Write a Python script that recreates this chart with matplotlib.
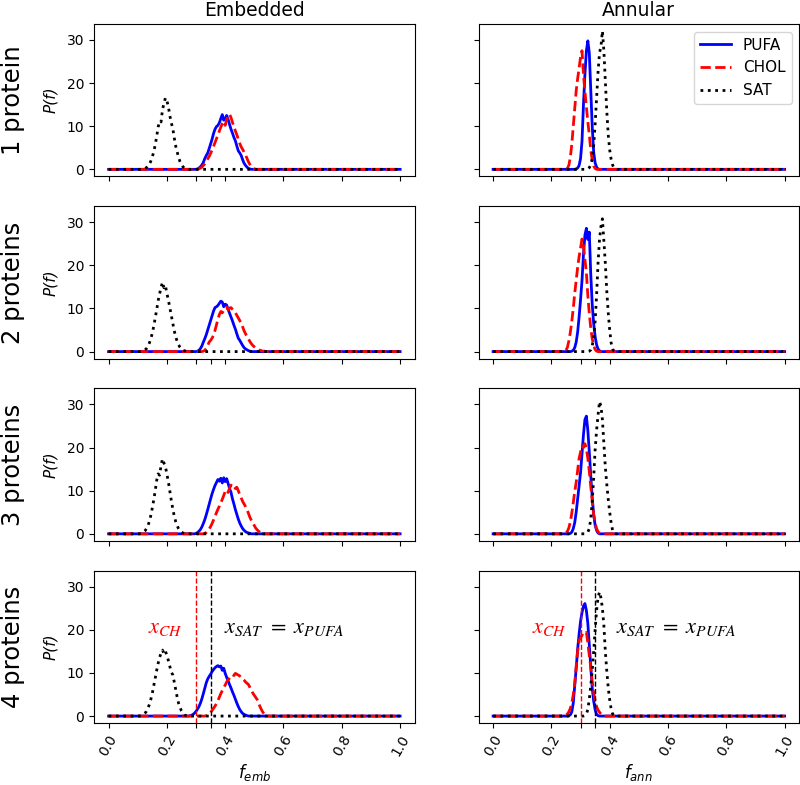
import numpy as np
import matplotlib
matplotlib.use('Agg')
import matplotlib.pyplot as plt

# histogram bins of the lipid fraction f
step = 0.005
f = np.linspace(0., 1., 201)

rows = ['1 protein', '2 proteins', '3 proteins', '4 proteins']
columns = ['Embedded', 'Annular']
x_ch = 0.30      # overall cholesterol fraction
x_sat = 0.35     # overall SAT (= PUFA) fraction

# each curve: (first non-empty bin, values); every other bin is zero
emb_pufa = [
    (0.305, [0.1, 0.3, 0.6, 1.0, 1.6, 2.5, 3.2, 3.8, 4.8, 5.9, 7.0, 8.3, 9.3, 9.9, 10.2, 10.8, 11.8, 12.7, 11.4,
             11.8, 12.5, 11.6, 10.4, 9.3, 8.4, 7.4, 6.6, 5.4, 4.3, 3.8, 3.2, 2.2, 1.4, 0.9, 0.5, 0.2, 0.1]),
    (0.305, [0.1, 0.3, 0.7, 1.3, 2.2, 3.0, 3.9, 5.0, 6.1, 7.2, 8.3, 9.4, 10.2, 10.4, 10.7, 11.2, 11.7, 11.5, 10.4,
             11.0, 10.8, 9.8, 8.9, 8.0, 7.1, 6.1, 5.2, 4.1, 3.1, 2.6, 2.0, 1.4, 0.9, 0.6, 0.4, 0.2, 0.1]),
    (0.300, [0.1, 0.3, 0.6, 1.0, 1.6, 2.4, 3.3, 4.4, 5.6, 6.9, 8.1, 9.3, 10.3, 11.2, 11.9, 12.6, 12.2, 12.9, 11.8,
             13.0, 12.1, 12.8, 11.7, 10.5, 9.6, 8.1, 6.9, 5.6, 4.5, 3.4, 2.5, 1.8, 1.2, 0.8, 0.5, 0.3, 0.2, 0.1]),
    (0.280, [0.1, 0.2, 0.4, 0.7, 1.1, 1.6, 2.2, 3.0, 4.0, 5.2, 6.5, 7.7, 8.6, 9.2, 9.7, 10.3, 10.8, 11.2, 11.5,
             11.7, 11.4, 11.6, 10.6, 11.1, 9.9, 9.0, 8.2, 7.3, 6.5, 5.6, 4.8, 3.9, 3.0, 2.2, 1.5, 1.0, 0.6, 0.4,
             0.2, 0.1]),
]
emb_chol = [
    (0.310, [0.1, 0.3, 0.5, 0.9, 1.3, 1.8, 2.4, 3.0, 3.7, 4.5, 5.3, 6.2, 7.1, 8.0, 8.9, 9.8, 10.6, 11.1, 10.2,
             11.5, 12.4, 12.8, 12.0, 10.9, 9.9, 8.9, 8.0, 7.0, 6.0, 5.2, 4.6, 4.0, 3.3, 2.5, 1.7, 1.1, 0.6, 0.3,
             0.1]),
    (0.325, [0.1, 0.3, 0.7, 1.4, 2.2, 2.6, 3.1, 3.8, 4.9, 6.2, 7.5, 8.6, 9.3, 9.0, 9.6, 9.9, 10.3, 9.7, 10.1,
             10.2, 9.8, 9.5, 9.0, 8.4, 7.8, 7.2, 6.6, 5.7, 4.8, 4.1, 3.5, 2.9, 2.3, 1.8, 1.4, 1.1, 0.8, 0.6, 0.4,
             0.3, 0.2, 0.1, 0.1]),
    (0.330, [0.1, 0.3, 0.6, 1.1, 1.7, 2.4, 3.2, 4.0, 4.9, 5.7, 6.4, 7.2, 8.0, 8.9, 9.8, 10.2, 9.6, 10.6, 11.3,
             10.9, 11.1, 10.5, 10.8, 10.0, 9.1, 8.3, 7.5, 6.9, 6.3, 5.6, 4.7, 3.8, 3.1, 2.5, 1.9, 1.3, 0.9, 0.6,
             0.3, 0.2, 0.1]),
    (0.335, [0.1, 0.3, 0.6, 0.9, 1.3, 1.8, 2.3, 2.9, 3.6, 4.4, 5.2, 5.9, 6.6, 7.2, 7.9, 8.4, 8.8, 9.2, 9.6, 9.4,
             9.9, 9.7, 9.5, 9.3, 8.9, 8.6, 8.3, 7.9, 7.6, 7.3, 6.6, 5.9, 5.3, 4.8, 4.3, 3.8, 2.9, 2.1, 1.4, 0.8,
             0.4, 0.2, 0.1]),
]
emb_sat = [
    (0.120, [0.1, 0.2, 0.4, 0.7, 1.2, 1.9, 2.9, 4.1, 5.7, 7.6, 9.8, 11.2, 11.0, 13.9, 15.3, 16.6, 15.9, 14.6,
             12.5, 10.8, 9.6, 7.4, 5.5, 4.1, 2.8, 1.8, 1.1, 0.6, 0.3, 0.2, 0.1]),
    (0.115, [0.1, 0.2, 0.4, 0.7, 1.2, 2.0, 3.0, 4.3, 5.9, 7.8, 9.7, 11.8, 13.4, 14.9, 16.1, 14.8, 15.3, 13.5,
             12.0, 10.2, 8.4, 6.5, 4.9, 3.5, 2.4, 1.6, 1.0, 0.6, 0.3, 0.2, 0.1]),
    (0.110, [0.1, 0.2, 0.4, 0.7, 1.2, 1.9, 2.9, 4.3, 6.0, 7.9, 10.0, 12.4, 13.9, 13.6, 15.8, 17.4, 16.4, 15.6,
             13.8, 12.1, 9.9, 7.8, 5.9, 4.2, 2.9, 1.9, 1.2, 0.7, 0.4, 0.2, 0.1]),
    (0.110, [0.1, 0.2, 0.4, 0.7, 1.1, 1.8, 2.7, 3.9, 5.3, 7.0, 8.8, 10.6, 12.2, 13.6, 14.6, 15.3, 14.5, 15.1,
             14.0, 12.9, 11.6, 10.2, 9.6, 8.0, 6.2, 4.5, 3.0, 2.0, 1.2, 0.7, 0.3, 0.1]),
]
ann_pufa = [
    (0.285, [0.1, 0.3, 0.9, 2.5, 6.5, 15.0, 22.0, 27.5, 29.8, 27.0, 18.5, 10.0, 4.0, 1.5, 0.5, 0.1]),
    (0.270, [0.1, 0.3, 0.9, 2.2, 4.5, 8.0, 12.0, 16.5, 22.5, 27.0, 28.6, 26.0, 27.7, 18.0, 11.0, 6.5, 3.5, 1.6,
             0.6, 0.2]),
    (0.265, [0.1, 0.4, 1.2, 2.6, 5.0, 8.0, 11.0, 14.2, 18.5, 23.0, 26.5, 27.3, 24.0, 19.0, 13.5, 8.5, 4.5, 2.0,
             0.8, 0.2]),
    (0.260, [0.1, 0.3, 1.0, 3.0, 6.9, 11.0, 15.5, 19.0, 22.0, 24.0, 25.5, 26.1, 24.5, 21.5, 16.5, 11.5, 6.5,
             3.5, 1.5, 0.4, 0.1]),
]
ann_chol = [
    (0.255, [0.2, 1.0, 2.8, 5.8, 10.0, 14.5, 18.2, 21.0, 23.5, 26.0, 27.5, 22.0, 18.0, 14.5, 11.0, 8.0, 4.5,
             2.2, 0.8, 0.2]),
    (0.250, [0.3, 1.0, 2.5, 4.5, 7.0, 10.0, 13.5, 16.5, 19.5, 22.0, 24.0, 26.1, 24.5, 21.5, 18.3, 13.0, 8.8,
             5.5, 3.0, 1.4, 0.5, 0.1]),
    (0.250, [0.2, 0.6, 1.4, 2.8, 4.8, 7.2, 9.8, 11.9, 14.8, 17.5, 19.0, 20.4, 20.0, 20.9, 19.8, 17.5, 14.5,
             11.0, 7.8, 4.5, 2.5, 1.2, 0.5, 0.1]),
    (0.250, [0.2, 0.5, 1.0, 1.8, 3.0, 5.0, 7.5, 11.5, 15.0, 17.5, 18.2, 18.8, 18.6, 19.0, 19.4, 17.0, 14.0,
             11.5, 8.0, 5.5, 3.5, 2.2, 1.4, 0.9, 0.5, 0.2]),
]
ann_sat = [
    (0.325, [0.1, 0.4, 1.0, 2.5, 5.5, 10.5, 16.5, 22.5, 27.0, 28.5, 32.1, 27.5, 20.5, 13.5, 8.0, 4.5, 2.3, 1.0,
             0.3, 0.1]),
    (0.330, [0.1, 0.4, 1.3, 3.2, 7.0, 13.0, 20.5, 26.0, 29.0, 30.8, 25.5, 20.5, 14.0, 9.0, 5.0, 2.0, 0.6, 0.1]),
    (0.320, [0.1, 0.4, 1.2, 3.5, 7.5, 13.0, 19.5, 24.0, 27.5, 30.7, 29.6, 26.5, 21.0, 15.5, 11.5, 8.0, 5.0, 2.5,
             0.8, 0.1]),
    (0.315, [0.1, 0.5, 1.5, 4.0, 7.0, 10.5, 15.0, 20.0, 24.5, 27.5, 28.8, 27.4, 25.0, 21.0, 15.0, 10.5, 6.5,
             3.8, 1.6, 0.5, 0.1]),
]


def full(curve):
    start, vals = curve
    y = np.zeros_like(f)
    i0 = int(round(start / step))
    y[i0:i0 + len(vals)] = vals
    return y


fig, axs = plt.subplots(4, 2, figsize=(8, 7.85), dpi=100, sharex=True, sharey=True)
fig.subplots_adjust(left=0.1175, right=0.999, top=0.9694, bottom=0.079,
                    wspace=0.199, hspace=0.197)

data = [(emb_pufa, emb_chol, emb_sat), (ann_pufa, ann_chol, ann_sat)]
for j in range(2):
    pufa, chol, sat = data[j]
    for i in range(4):
        ax = axs[i, j]
        ax.plot(f, full(pufa[i]), 'b-', lw=2, label='PUFA')
        ax.plot(f, full(chol[i]), 'r--', lw=2, label='CHOL')
        ax.plot(f, full(sat[i]), 'k:', lw=2, label='SAT')
        ax.set_xticks([0., 0.2, 0.4, 0.6, 0.8, 1.0])
        ax.set_xticks([x_ch, x_sat], minor=True)
        ax.tick_params(which='minor', length=3.5, width=0.8)
        ax.set_yticks([0, 10, 20, 30])
        if j == 0:
            ax.set_ylabel('P(f)', style='italic', fontsize=11, labelpad=6)

axs[0, 0].set_title(columns[0], fontsize=13.5)
axs[0, 1].set_title(columns[1], fontsize=13.5)
axs[0, 1].legend(loc='upper right', fontsize=11)

for i in range(4):
    pos = axs[i, 0].get_position()
    fig.text(0.016, (pos.y0 + pos.y1) / 2, rows[i], rotation=90,
             ha='center', va='center', fontsize=17.5)

# reference compositions in the 4 protein case
for j, xs in enumerate([0.395, 0.42]):
    ax = axs[3, j]
    ax.axvline(x_ch, color='r', ls='--', lw=1)
    ax.axvline(x_sat, color='k', ls='--', lw=1)
    ax.text(0.135, 19.2, r'$x_{CH}$', color='r', fontsize=16, math_fontfamily='stix')
    ax.text(xs, 19.2, r'$x_{SAT}\ =\ x_{PUFA}$', color='k', fontsize=16, math_fontfamily='stix')
    ax.tick_params(axis='x', labelrotation=60)

axs[3, 0].set_xlabel('$f_{emb}$', fontsize=12, labelpad=2)
axs[3, 1].set_xlabel('$f_{ann}$', fontsize=12, labelpad=2)

fig.savefig('out.png', dpi=100)
